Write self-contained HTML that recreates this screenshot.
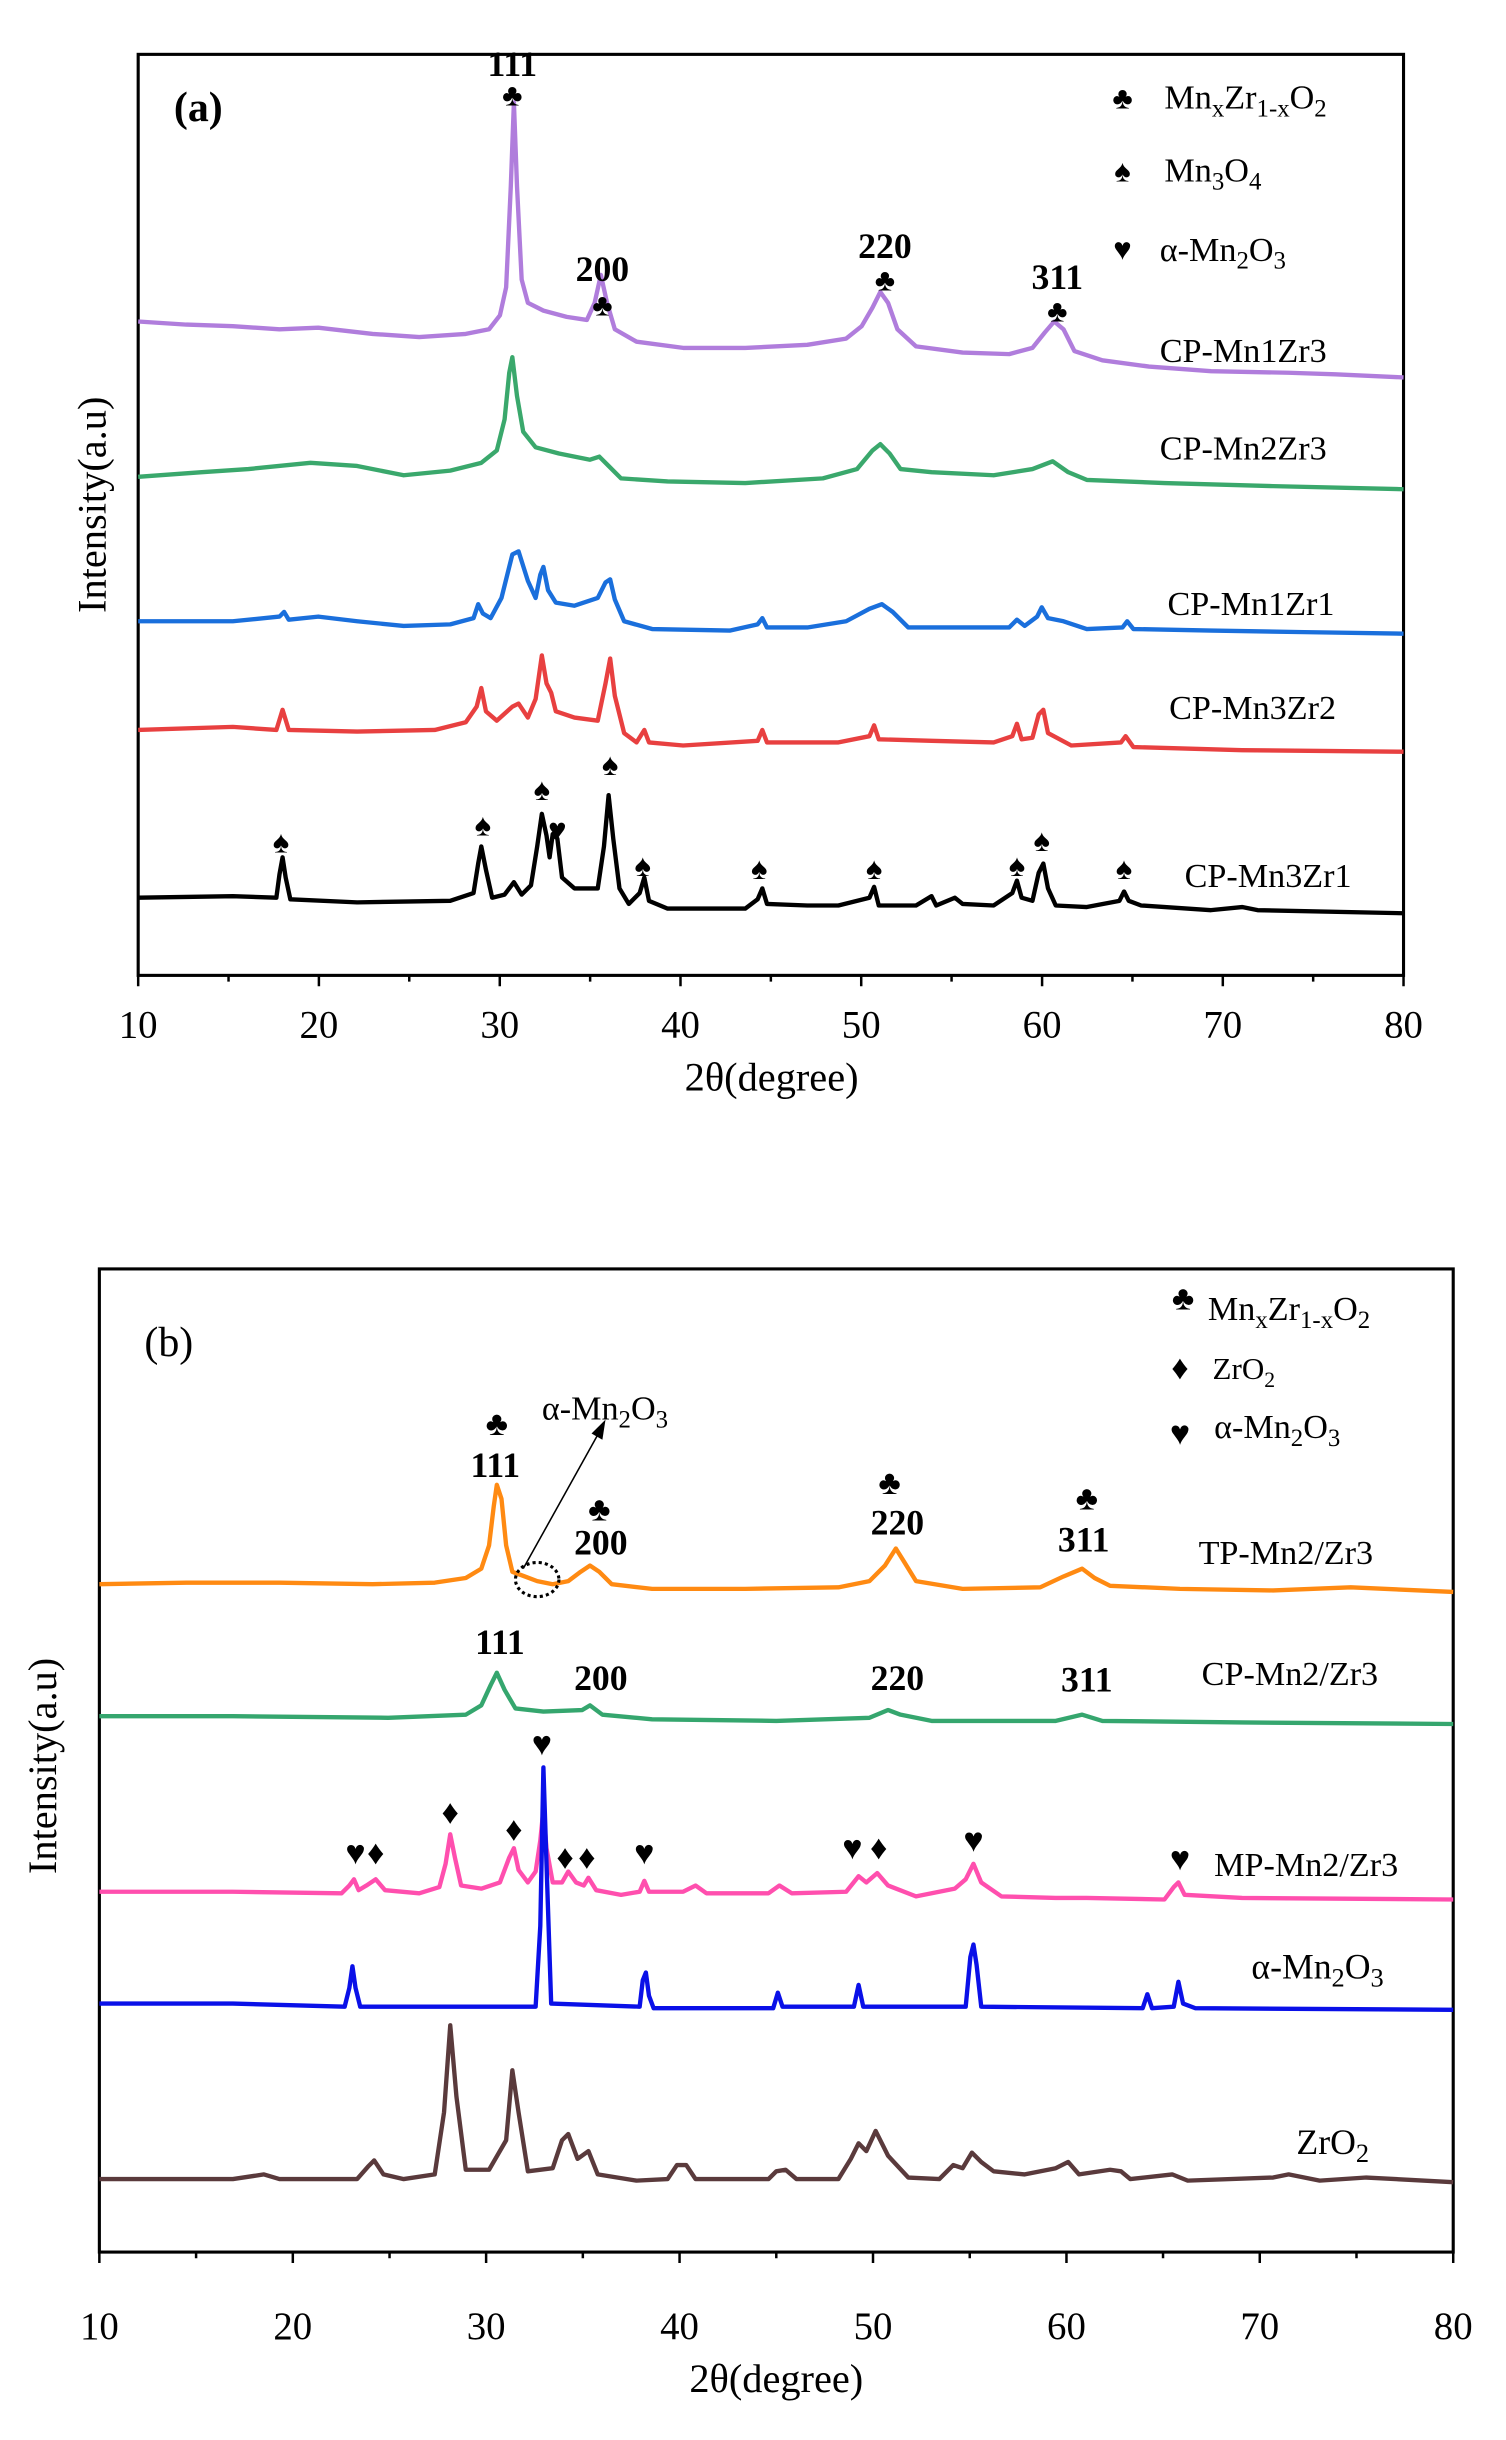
<!DOCTYPE html>
<html><head><meta charset="utf-8"><style>
html,body{margin:0;padding:0;background:#fff}
svg{display:block}
text{font-family:"Liberation Serif",serif;fill:#000}
.b{font-weight:bold}
</style></head><body>
<svg width="1506" height="2440" viewBox="0 0 970 1571" preserveAspectRatio="none" xmlns="http://www.w3.org/2000/svg">
<g fill="none" stroke="#000" stroke-width="2">
<rect x="89" y="35" width="815" height="593"/>
<rect x="64" y="817" width="872" height="633"/>
</g>
<g stroke="#000" stroke-width="1.6">
<path d="M89 628v7M147.2 628v4M205.4 628v7M263.6 628v4M321.9 628v7M380.1 628v4M438.3 628v7M496.5 628v4M554.7 628v7M612.9 628v4M671.2 628v7M729.4 628v4M787.6 628v7M845.8 628v4M904 628v7"/>
<path d="M64 1450v7M126.3 1450v4M188.6 1450v7M250.9 1450v4M313.1 1450v7M375.4 1450v4M437.7 1450v7M500 1450v4M562.3 1450v7M624.6 1450v4M686.9 1450v7M749.1 1450v4M811.4 1450v7M873.7 1450v4M936 1450v7"/>
</g>
<g fill="none" stroke-width="2.8" stroke-linejoin="round">
<path stroke="#b07ddc" d="M89 207 L120 209 L150 210 L180 212 L205 211 L240 215 L270 217 L300 215 L315 212 L322 203 L326 185 L329 120 L331 66 L333 120 L336 180 L340 195 L350 200 L365 204 L378 206 L383 195 L387 177 L391 195 L396 212 L410 220 L440 224 L480 224 L520 222 L545 218 L555 210 L562 198 L567 188 L572 195 L578 212 L590 223 L620 227 L650 228 L665 224 L673 214 L679 207 L685 212 L692 226 L710 232 L740 236 L780 239 L830 240 L860 241 L904 243"/>
<path stroke="#3aa86c" d="M89 307 L130 304 L160 302 L200 298 L230 300 L260 306 L290 303 L310 298 L320 290 L325 270 L328 240 L330 230 L333 255 L337 278 L345 288 L360 292 L380 296 L386 294 L392 300 L400 308 L430 310 L480 311 L530 308 L552 302 L562 290 L567 286 L573 292 L580 302 L600 304 L640 306 L665 302 L678 297 L688 304 L700 309 L750 311 L820 313 L904 315"/>
<path stroke="#1a6fdc" d="M89 400 L150 400 L180 397 L183 394 L186 399 L205 397 L230 400 L260 403 L290 402 L305 398 L308 389 L311 395 L316 398 L323 385 L330 357 L334 355 L340 374 L345 385 L348 370 L350 365 L353 380 L358 388 L370 390 L385 385 L390 375 L393 373 L396 386 L402 400 L420 405 L470 406 L488 402 L491 398 L494 404 L520 404 L545 400 L560 392 L568 389 L575 394 L585 404 L620 404 L650 404 L655 399 L660 403 L668 397 L671 391 L675 398 L685 400 L700 405 L723 404 L726 400 L730 405 L780 406 L840 407 L904 408"/>
<path stroke="#e84040" d="M89 470 L150 468 L178 470 L182 457 L186 470 L230 471 L280 470 L300 465 L307 455 L310 443 L313 458 L320 464 L330 455 L334 453 L340 462 L345 450 L349 422 L352 440 L355 446 L358 458 L370 462 L385 464 L390 440 L393 424 L396 448 L402 472 L410 478 L415 470 L418 478 L440 480 L488 477 L491 470 L494 478 L540 478 L560 474 L563 467 L566 476 L600 477 L640 478 L652 474 L655 466 L658 476 L665 475 L669 460 L672 457 L675 472 L690 480 L722 478 L725 474 L730 481 L800 483 L904 484"/>
<path stroke="#000" d="M89 578 L150 577 L178 578 L180 563 L182 552 L184 565 L187 579 L230 581 L290 580 L305 575 L308 556 L310 545 L313 560 L317 578 L325 576 L331 568 L336 576 L342 570 L346 545 L349 524 L352 538 L354 552 L356 537 L359 540 L362 565 L370 572 L385 572 L389 545 L392 512 L395 540 L399 572 L405 582 L412 575 L415 565 L418 580 L430 585 L480 585 L488 579 L491 572 L494 582 L520 583 L540 583 L560 578 L563 571 L566 583 L590 583 L600 577 L603 583 L615 578 L620 582 L640 583 L652 575 L655 567 L658 578 L665 580 L669 562 L672 556 L675 572 L680 583 L700 584 L721 580 L724 574 L727 580 L735 583 L780 586 L800 584 L810 586 L904 588"/>
<path stroke="#ff8a12" d="M64 1020 L120 1019 L180 1019 L240 1020 L280 1019 L300 1016 L310 1010 L315 995 L318 970 L320 956 L323 965 L326 995 L330 1012 L338 1015 L346 1018 L356 1020 L366 1018 L374 1012 L380 1008 L386 1012 L394 1020 L420 1023 L480 1023 L540 1022 L560 1018 L570 1008 L577 997 L582 1005 L590 1018 L620 1023 L670 1022 L685 1015 L697 1010 L705 1016 L715 1021 L760 1023 L820 1024 L870 1022 L936 1025"/>
<path stroke="#35a66e" d="M64 1105 L150 1105 L250 1106 L300 1104 L310 1098 L316 1085 L320 1077 L325 1088 L332 1100 L350 1102 L375 1101 L380 1098 L388 1104 L420 1107 L500 1108 L560 1106 L572 1101 L580 1104 L600 1108 L680 1108 L697 1104 L710 1108 L800 1109 L936 1110"/>
<path stroke="#ff4fae" d="M64 1218 L150 1218 L220 1219 L225 1214 L228 1210 L231 1217 L236 1214 L242 1210 L248 1217 L270 1219 L283 1215 L287 1200 L290 1181 L293 1196 L297 1214 L310 1216 L322 1212 L328 1196 L331 1190 L334 1204 L340 1212 L345 1205 L348 1185 L350 1165 L352 1190 L356 1212 L362 1212 L366 1205 L371 1212 L376 1214 L379 1209 L384 1217 L400 1220 L412 1218 L415 1211 L418 1218 L440 1218 L448 1214 L455 1219 L495 1219 L502 1214 L510 1219 L545 1218 L553 1208 L558 1212 L565 1206 L572 1214 L590 1221 L615 1216 L622 1210 L627 1200 L632 1212 L645 1221 L680 1222 L700 1222 L750 1223 L756 1215 L759 1212 L763 1220 L800 1222 L936 1223"/>
<path stroke="#0a10e8" d="M64 1290 L150 1290 L222 1292 L225 1280 L227 1266 L229 1280 L232 1292 L345 1292 L348 1240 L350 1138 L352 1200 L355 1290 L412 1292 L414 1275 L416 1270 L418 1285 L421 1293 L498 1293 L501 1283 L504 1292 L550 1292 L553 1278 L556 1292 L622 1292 L625 1260 L627 1252 L629 1265 L632 1292 L736 1293 L739 1284 L742 1293 L756 1292 L759 1276 L762 1290 L770 1293 L936 1294"/>
<path stroke="#5a3a3c" d="M64 1403 L150 1403 L170 1400 L180 1403 L230 1403 L237 1395 L241 1391 L247 1400 L260 1403 L280 1400 L286 1360 L290 1304 L294 1350 L300 1397 L315 1397 L326 1378 L330 1333 L334 1360 L340 1398 L356 1396 L362 1378 L366 1374 L372 1390 L379 1385 L385 1400 L410 1404 L430 1403 L436 1394 L442 1394 L448 1403 L495 1403 L500 1398 L506 1397 L513 1403 L540 1403 L548 1390 L553 1380 L558 1385 L564 1372 L572 1388 L585 1402 L605 1403 L614 1394 L620 1396 L626 1386 L632 1392 L640 1398 L660 1400 L680 1396 L688 1392 L695 1400 L715 1397 L722 1398 L728 1403 L755 1400 L765 1404 L820 1402 L830 1400 L850 1404 L880 1402 L936 1405"/>
</g>
<g font-size="25" text-anchor="middle">
<text x="89" y="668">10</text><text x="205.4" y="668">20</text><text x="321.9" y="668">30</text><text x="438.3" y="668">40</text><text x="554.7" y="668">50</text><text x="671.2" y="668">60</text><text x="787.6" y="668">70</text><text x="904" y="668">80</text>
<text x="64" y="1506">10</text><text x="188.6" y="1506">20</text><text x="313.1" y="1506">30</text><text x="437.7" y="1506">40</text><text x="562.3" y="1506">50</text><text x="686.9" y="1506">60</text><text x="811.4" y="1506">70</text><text x="936" y="1506">80</text>
</g>
<text x="497" y="702" font-size="26" text-anchor="middle">2θ(degree)</text>
<text x="500" y="1540" font-size="26" text-anchor="middle">2θ(degree)</text>
<text transform="translate(68,325) rotate(-90)" font-size="26" text-anchor="middle">Intensity(a.u)</text>
<text transform="translate(36,1137) rotate(-90)" font-size="26" text-anchor="middle">Intensity(a.u)</text>
<text x="112" y="78" font-size="27" class="b">(a)</text>
<g font-size="23" class="b" text-anchor="middle">
<text x="330" y="49">111</text><text x="388" y="181">200</text><text x="570" y="166">220</text><text x="681" y="186">311</text>
</g>
<g font-size="20" text-anchor="middle">
<text x="330" y="68">♣</text><text x="388" y="203">♣</text><text x="570" y="187">♣</text><text x="681" y="207">♣</text>
<text x="723" y="70">♣</text><text x="723" y="117">♠</text><text x="723" y="167">♥</text>
<text x="181" y="549">♠</text><text x="311" y="538">♠</text><text x="349" y="515">♠</text><text x="359" y="541">♥</text><text x="393" y="499">♠</text><text x="414" y="564">♠</text><text x="489" y="566">♠</text><text x="563" y="566">♠</text><text x="655" y="564">♠</text><text x="671" y="548">♠</text><text x="724" y="566">♠</text>
</g>
<g font-size="22">
<text x="750" y="70">Mn<tspan font-size="16" dy="5">x</tspan><tspan dy="-5">Zr</tspan><tspan font-size="16" dy="5">1-x</tspan><tspan dy="-5">O</tspan><tspan font-size="16" dy="5">2</tspan></text>
<text x="750" y="117">Mn<tspan font-size="16" dy="5">3</tspan><tspan dy="-5">O</tspan><tspan font-size="16" dy="5">4</tspan></text>
<text x="747" y="168">α-Mn<tspan font-size="16" dy="5">2</tspan><tspan dy="-5">O</tspan><tspan font-size="16" dy="5">3</tspan></text>
<text x="747" y="233">CP-Mn1Zr3</text><text x="747" y="296">CP-Mn2Zr3</text><text x="752" y="396">CP-Mn1Zr1</text><text x="753" y="463">CP-Mn3Zr2</text><text x="763" y="571">CP-Mn3Zr1</text>
</g>
<text x="93" y="873" font-size="27">(b)</text>
<g font-size="23" class="b" text-anchor="middle">
<text x="319" y="951">111</text><text x="387" y="1001">200</text><text x="578" y="988">220</text><text x="698" y="999">311</text>
<text x="322" y="1065">111</text><text x="387" y="1088">200</text><text x="578" y="1088">220</text><text x="700" y="1089">311</text>
</g>
<g font-size="22" text-anchor="middle">
<text x="320" y="924">♣</text><text x="386" y="979">♣</text><text x="573" y="962">♣</text><text x="700" y="972">♣</text>
<text x="762" y="843">♣</text><text x="760" y="888">♦</text><text x="760" y="930">♥</text>
<text x="229" y="1200">♥</text><text x="242" y="1200">♦</text><text x="290" y="1174">♦</text><text x="331" y="1185">♦</text><text x="349" y="1130">♥</text><text x="364" y="1203">♦</text><text x="378" y="1203">♦</text><text x="415" y="1200">♥</text><text x="549" y="1197">♥</text><text x="566" y="1197">♦</text><text x="627" y="1192">♥</text><text x="760" y="1204">♥</text>
</g>
<g font-size="22">
<text x="778" y="850">Mn<tspan font-size="16" dy="5">x</tspan><tspan dy="-5">Zr</tspan><tspan font-size="16" dy="5">1-x</tspan><tspan dy="-5">O</tspan><tspan font-size="16" dy="5">2</tspan></text>
<text x="781" y="888" font-size="20">ZrO<tspan font-size="14" dy="5">2</tspan></text>
<text x="782" y="926">α-Mn<tspan font-size="16" dy="5">2</tspan><tspan dy="-5">O</tspan><tspan font-size="16" dy="5">3</tspan></text>
<text x="349" y="914">α-Mn<tspan font-size="16" dy="5">2</tspan><tspan dy="-5">O</tspan><tspan font-size="16" dy="5">3</tspan></text>
<text x="772" y="1007">TP-Mn2/Zr3</text><text x="774" y="1085">CP-Mn2/Zr3</text><text x="782" y="1208">MP-Mn2/Zr3</text>
<text x="806" y="1274" font-size="23">α-Mn<tspan font-size="17" dy="5">2</tspan><tspan dy="-5">O</tspan><tspan font-size="17" dy="5">3</tspan></text>
<text x="835" y="1387" font-size="23">ZrO<tspan font-size="17" dy="5">2</tspan></text>
</g>
<line x1="337" y1="1010" x2="386" y2="922" stroke="#000" stroke-width="1"/>
<polygon points="390,914 381,923 388,927" fill="#000"/>
<ellipse cx="346" cy="1017" rx="14" ry="11" fill="none" stroke="#000" stroke-width="2" stroke-dasharray="2,2"/>
</svg>
</body></html>
